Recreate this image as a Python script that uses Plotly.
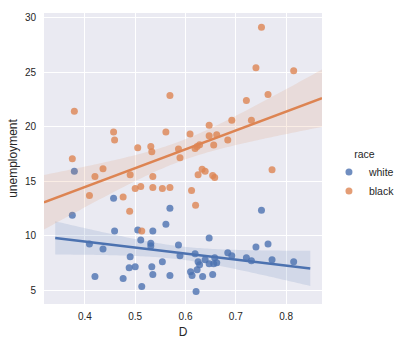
import numpy as np
import plotly.graph_objects as go

# ---- data ----
white_D = [0.375, 0.379, 0.409, 0.420, 0.436, 0.457, 0.459, 0.476, 0.488, 0.490,
           0.500, 0.505, 0.511, 0.513, 0.531, 0.531, 0.533, 0.535, 0.535, 0.554,
           0.561, 0.569, 0.569, 0.586, 0.589, 0.610, 0.613, 0.619, 0.621, 0.623,
           0.625, 0.628, 0.634, 0.639, 0.647, 0.647, 0.654, 0.656, 0.658, 0.662,
           0.684, 0.692, 0.721, 0.731, 0.740, 0.751, 0.764, 0.772, 0.815]
white_U = [11.88, 15.91, 9.25, 6.25, 8.79, 13.43, 10.43, 6.06, 7.06, 8.06,
           7.15, 10.52, 9.61, 5.34, 9.30, 9.06, 7.15, 10.43, 6.43, 7.61,
           11.06, 12.52, 6.34, 9.15, 8.15, 6.70, 6.34, 8.34, 4.88, 6.88,
           7.61, 7.34, 6.25, 7.79, 9.79, 7.43, 6.43, 7.43, 7.97, 7.52,
           8.43, 8.15, 7.97, 7.70, 8.97, 12.34, 9.25, 7.79, 7.61]

black_D = [0.375, 0.379, 0.409, 0.420, 0.436, 0.457, 0.459, 0.476, 0.489, 0.490,
           0.500, 0.505, 0.511, 0.513, 0.531, 0.533, 0.535, 0.535, 0.554, 0.561,
           0.569, 0.569, 0.586, 0.589, 0.609, 0.612, 0.620, 0.619, 0.623, 0.625,
           0.628, 0.633, 0.639, 0.647, 0.647, 0.654, 0.656, 0.658, 0.662, 0.684,
           0.692, 0.721, 0.731, 0.740, 0.751, 0.764, 0.772, 0.815]
black_U = [17.06, 21.43, 13.70, 15.43, 16.15, 19.52, 18.79, 13.55, 12.25, 15.60,
           14.34, 18.08, 14.52, 10.43, 18.20, 17.70, 15.43, 14.43, 14.34, 19.52,
           22.88, 14.43, 17.97, 17.17, 19.35, 14.15, 12.80, 18.00, 18.20, 15.60,
           18.36, 16.10, 15.91, 20.15, 19.17, 15.52, 18.34, 15.34, 19.26, 18.79,
           20.60, 22.42, 20.60, 25.42, 29.15, 22.97, 16.05, 25.15]

races = ["white", "black"]
colors = {"white": "#4C72B0", "black": "#DD8452"}
bands = {"white": "rgba(76,114,176,0.15)", "black": "rgba(221,132,82,0.15)"}
line_span = {"white": (0.341, 0.848), "black": (0.3187, 0.8713)}
series = {"white": (white_D, white_U), "black": (black_D, black_U)}

fig = go.Figure()

def fit(xs, ys, grid):
    x = np.asarray(xs); y = np.asarray(ys)
    n = len(x)
    b, a = np.polyfit(x, y, 1)
    resid = y - (a + b * x)
    s = np.sqrt(np.sum(resid ** 2) / (n - 2))
    sxx = np.sum((x - x.mean()) ** 2)
    yhat = a + b * grid
    se = s * np.sqrt(1.0 / n + (grid - x.mean()) ** 2 / sxx)
    return yhat, yhat - 2.01 * se, yhat + 2.01 * se

for r in races:
    xs, ys = series[r]
    fig.add_trace(go.Scatter(x=xs, y=ys, mode="markers", name=r,
                             marker=dict(color=colors[r], size=7, opacity=0.8),
                             legendgroup=r, showlegend=True))
    g = np.linspace(line_span[r][0], line_span[r][1], 100)
    yhat, lo, hi = fit(xs, ys, g)
    fig.add_trace(go.Scatter(x=np.concatenate([g, g[::-1]]),
                             y=np.concatenate([hi, lo[::-1]]),
                             fill="toself", fillcolor=bands[r], mode="none",
                             hoverinfo="skip", showlegend=False))
    fig.add_trace(go.Scatter(x=g, y=yhat, mode="lines",
                             line=dict(color=colors[r], width=2.5),
                             showlegend=False))

font_family = "Liberation Sans, Arial, sans-serif"
fig.update_layout(
    width=412, height=348,
    margin=dict(l=44, r=71, t=13, b=41),
    paper_bgcolor="white", plot_bgcolor="#EAEAF2",
    font=dict(family=font_family, color="#262626", size=10),
    legend=dict(x=1.025, xanchor="left", y=0.55, yanchor="top",
                title=dict(text="race", font=dict(size=10.5), side="top center"),
                font=dict(size=10.5), bgcolor="rgba(0,0,0,0)",
                tracegroupgap=0),
    xaxis=dict(range=[0.3187, 0.8713], tickvals=[0.4, 0.5, 0.6, 0.7, 0.8],
               ticktext=["0.4", "0.5", "0.6", "0.7", "0.8"],
               showgrid=True, gridcolor="white", gridwidth=1, zeroline=False,
               showline=False, ticks="", ticklabelstandoff=5,
               title=dict(text="D", font=dict(size=12), standoff=6),
               tickfont=dict(size=10)),
    yaxis=dict(range=[3.73, 30.45], tickvals=[5, 10, 15, 20, 25, 30],
               showgrid=True, gridcolor="white", gridwidth=1, zeroline=False,
               showline=False, ticks="", ticklabelstandoff=7,
               title=dict(text="unemployment", font=dict(size=12), standoff=4),
               tickfont=dict(size=10)),
)

fig.write_html("out.html")
